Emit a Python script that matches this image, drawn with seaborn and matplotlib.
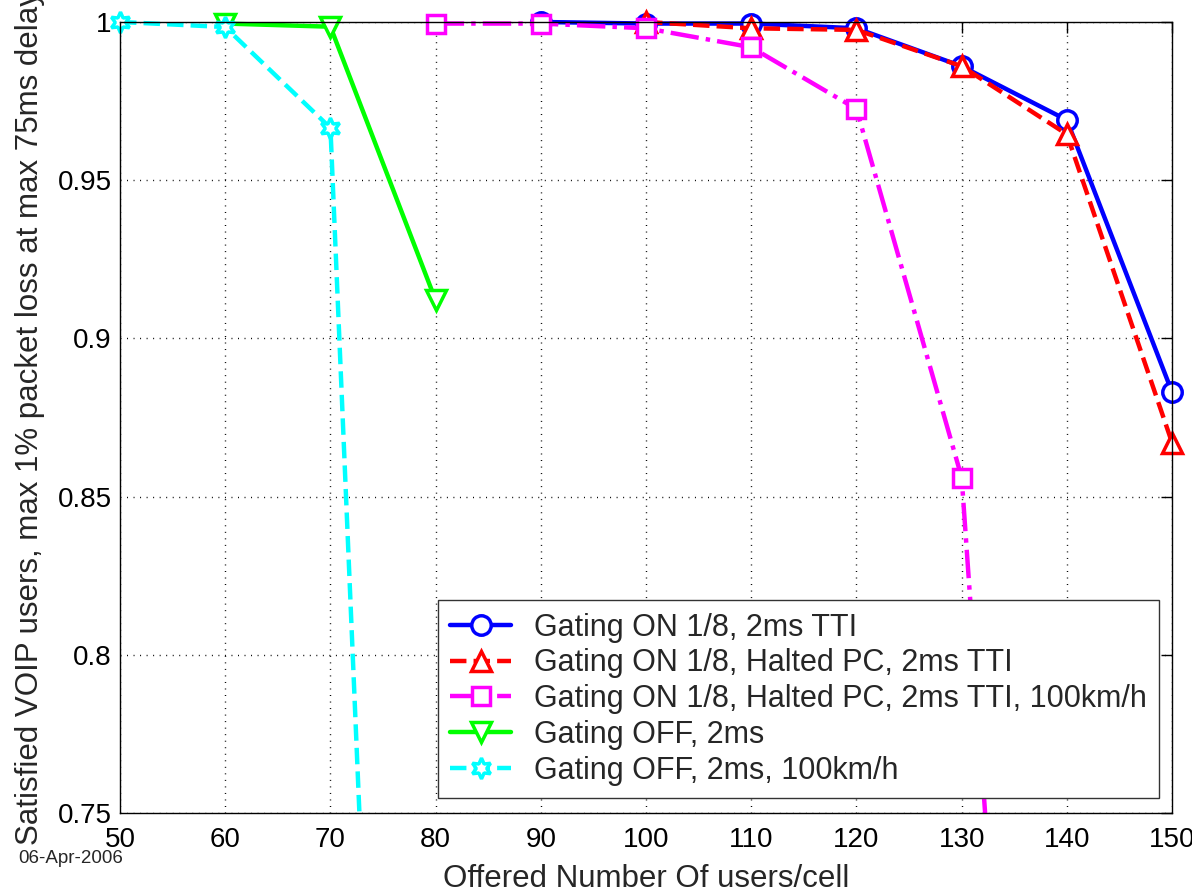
import matplotlib
matplotlib.use("Agg")
import matplotlib.pyplot as plt
import matplotlib.transforms as mtransforms
import seaborn as sns

# offered users/cell
users_on = [90, 100, 110, 120, 130, 140, 150]
on_2ms = [1.0, 0.9995, 0.9995, 0.998, 0.986, 0.969, 0.883]

users_halted = [100, 110, 120, 130, 140, 150]
halted = [1.0, 0.998, 0.9975, 0.986, 0.9645, 0.867]

users_halted_fast = [80, 90, 100, 110, 120, 130, 140]
halted_fast = [0.9995, 0.9995, 0.998, 0.992, 0.9725, 0.856, 0.38]

users_off = [60, 70, 80]
off_2ms = [0.9995, 0.9985, 0.912]

users_off_fast = [50, 60, 70, 80]
off_fast = [1.0, 0.9984, 0.9665, 0.18]

labels = [
    "Gating ON 1/8, 2ms TTI",
    "Gating ON 1/8, Halted PC, 2ms TTI",
    "Gating ON 1/8, Halted PC, 2ms TTI, 100km/h",
    "Gating OFF, 2ms",
    "Gating OFF, 2ms, 100km/h",
]
xticks = [50, 60, 70, 80, 90, 100, 110, 120, 130, 140, 150]
yticks = [0.75, 0.8, 0.85, 0.9, 0.95, 1.0]
ytick_labels = ["0.75", "0.8", "0.85", "0.9", "0.95", "1"]

sns.set_style("white")
plt.rcParams['font.family'] = ['Liberation Sans', 'DejaVu Sans']

fig = plt.figure(figsize=(11.92, 8.93), dpi=100)
ax = fig.add_axes([0.1007, 0.0896, 0.8826, 0.8858])

series = [
    (users_on, on_2ms, "#0000ff", "o", "-", 14),
    (users_halted, halted, "#ff0000", "^", "--", 14),
    (users_halted_fast, halted_fast, "#ff00ff", "s", "-.", 13),
    (users_off, off_2ms, "#00ff00", "v", "-", 14),
    (users_off_fast, off_fast, "#00ffff", (6, 1, 0), "--", 15),
]

for (xs, ys, col, mk, ls, ms), lab in zip(series, labels):
    sns.lineplot(x=xs, y=ys, ax=ax, color=col, marker=mk, linestyle=ls,
                 linewidth=3.2, markersize=ms, markerfacecolor="white",
                 markeredgecolor=col, markeredgewidth=2.5, label=lab)

# clip only at the bottom: markers on the top/right edge stay whole
clip = mtransforms.TransformedBbox(
    mtransforms.Bbox([[-0.05, 0.0], [1.05, 1.06]]), ax.transAxes)
for line in ax.get_lines():
    line.set_clip_box(clip)

ax.set_xlim(50, 150)
ax.set_ylim(0.75, 1.0)
ax.set_xticks(xticks)
ax.set_yticks(yticks)
ax.set_yticklabels(ytick_labels)
ax.tick_params(direction="in", top=True, right=True, length=8, width=1,
               labelsize=20, colors="black")
ax.tick_params(axis="x", pad=10)
ax.tick_params(axis="y", pad=6)
ax.grid(True, linestyle=(0, (0.7, 4)), color="black", linewidth=1.0)
for sp in ax.spines.values():
    sp.set_color("black")
    sp.set_linewidth(1.0)

ax.set_xlabel("Offered Number Of users/cell", fontsize=22.5, labelpad=8)
ax.set_ylabel("Satisfied VOIP users, max 1% packet loss at max 75ms delay",
              fontsize=22.5, labelpad=9)

leg = ax.legend(loc="lower right", bbox_to_anchor=(0.988, 0.019),
                borderaxespad=0, fontsize=22, frameon=True, fancybox=False,
                framealpha=1, edgecolor="#333333", labelspacing=0.19,
                handlelength=2.0, handletextpad=0.75, borderpad=0.4)
leg.get_frame().set_linewidth(1.0)

fig.text(0.015, 0.039, "06-Apr-2006", fontsize=13.5, va="center")

fig.savefig("out.png", dpi=100)
